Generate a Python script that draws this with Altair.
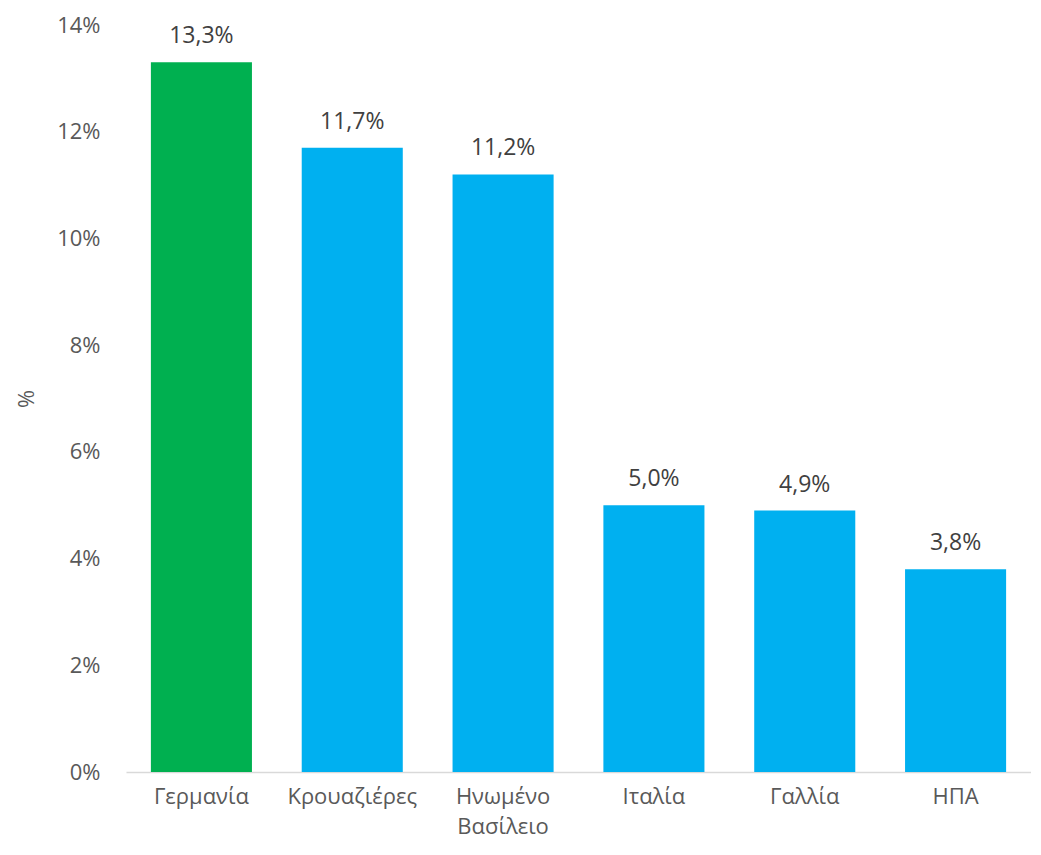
import altair as alt
import pandas as pd

categories = ["Γερμανία", "Κρουαζιέρες", "Ηνωμένο Βασίλειο", "Ιταλία", "Γαλλία", "ΗΠΑ"]
values = [13.3, 11.7, 11.2, 5.0, 4.9, 3.8]
colors = ["#00B050", "#00B0F0", "#00B0F0", "#00B0F0", "#00B0F0", "#00B0F0"]
y_ticks = [0, 2, 4, 6, 8, 10, 12, 14]

df = pd.DataFrame({"cat": categories, "v": values, "col": colors})

FONT = "Open Sans"

base = alt.Chart(df).encode(
    x=alt.X(
        "cat:N",
        sort=categories,
        title=None,
        scale=alt.Scale(paddingInner=0.33, paddingOuter=0.165),
        axis=alt.Axis(
            labelAngle=0,
            labelFont=FONT,
            labelFontSize=22,
            labelColor="#595959",
            labelPadding=14,
            labelLineHeight=30,
            labelExpr="indexof(datum.label, ' ') > 0 ? split(datum.label, ' ') : datum.label",
            ticks=False,
            domainColor="#D9D9D9",
            domainWidth=1.5,
            grid=False,
        ),
    ),
    y=alt.Y(
        "v:Q",
        title="%",
        scale=alt.Scale(domain=[0, 14], nice=False),
        axis=alt.Axis(
            values=y_ticks,
            labelExpr="datum.value + '%'",
            labelFont=FONT,
            labelFontSize=22,
            labelColor="#595959",
            labelPadding=26,
            ticks=False,
            domain=False,
            grid=False,
            titleFont=FONT,
            titleFontSize=22,
            titleFontWeight="normal",
            titleColor="#595959",
            titlePadding=18,
        ),
    ),
)

bars = base.mark_bar().encode(color=alt.Color("col:N", scale=None))

labels = base.transform_calculate(
    lbl="replace(format(datum.v, '.1f'), '.', ',') + '%'"
).mark_text(
    baseline="bottom", dy=-14, font=FONT, fontSize=23, color="#404040"
).encode(text="lbl:N")

chart = (
    (bars + labels)
    .properties(
        width=905,
        height=747,
        autosize=alt.AutoSizeParams(type="none"),
        padding={"left": 118, "top": 17, "right": 0, "bottom": 75},
    )
    .configure_view(stroke=None)
)

chart.save("out.html", embed_options={"renderer": "svg", "actions": False})
